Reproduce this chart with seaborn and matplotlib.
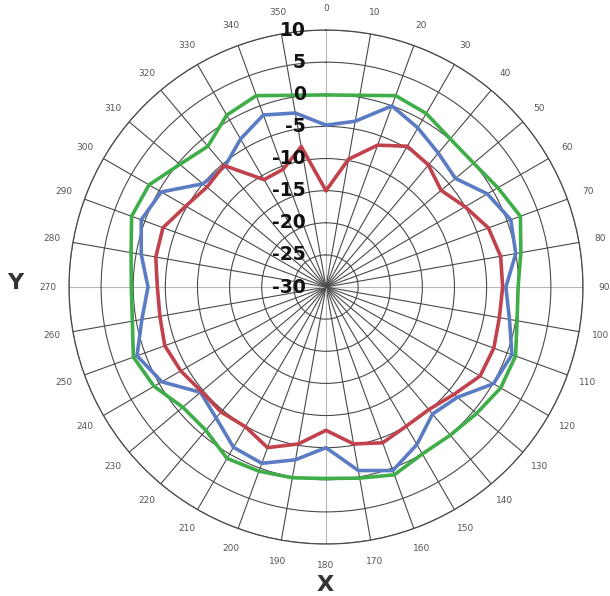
import numpy as np
import pandas as pd
import matplotlib
matplotlib.use("Agg")
import matplotlib.pyplot as plt
import matplotlib.transforms as mtrans
import seaborn as sns

# ---- data (dB values every 10 degrees, 0..350) ----
angles_deg = list(range(0, 360, 10))
green = [-0.1, 0.3, 1.7, 1.2, 0.1, 0.0, 0.9, 2.2, 0.8, -0.1, 0.2, 1.4,
         1.4, 0.6, 0.1, 0.0, 1.1, 0.2, -0.2, 0.15, 0.5, 0.8, -0.9, -0.9,
         0.9, 1.9, 0.6, 0.3, 0.8, 2.2, 1.8, -0.3, -1.4, 0.9, 1.7, 0.3]
blue = [-4.8, -3.8, 0.0, -1.4, -2.8, -3.7, -1.0, 0.6, 0.0, -2.0, -1.0, 0.8,
        0.1, -3.3, -4.2, -1.7, 0.4, -1.0, -5.0, -2.7, -0.8, -1.2, -3.4, -4.5,
        -0.5, 1.3, -0.9, -2.3, -0.8, 0.6, -0.4, -5.0, -5.5, -3.4, -1.5, -2.5]
red = [-15.0, -9.8, -6.5, -4.7, -5.2, -6.6, -5.0, -3.1, -2.4, -2.5, -2.6, -2.2,
       -2.3, -4.0, -5.1, -5.0, -4.2, -5.2, -7.7, -5.2, -3.4, -4.9, -4.6, -4.7,
       -3.9, -3.3, -3.75, -3.75, -3.1, -3.0, -4.8, -5.8, -5.3, -10.7, -10.5, -7.8]
series_names = ["green", "blue", "red"]
series_colors = ["#3fae49", "#5b7cc2", "#c1414d"]
r_ticks = [-30, -25, -20, -15, -10, -5, 0, 5, 10]
theta_labels = [str(a) for a in angles_deg]

sns.set_theme(style="white")
plt.rcParams['font.family'] = ['DejaVu Sans']

rows = []
for name, vals in zip(series_names, [green, blue, red]):
    for a, v in zip(angles_deg + [360], vals + [vals[0]]):
        rows.append({"series": name, "theta": np.deg2rad(a), "r": v, "order": a})
df = pd.DataFrame(rows)

fig = plt.figure(figsize=(6.10, 5.96), dpi=100)
ax = fig.add_axes([0.1131, 0.0872, 0.8426, 0.8624], projection="polar")
ax.set_theta_zero_location("N")
ax.set_theta_direction(-1)

for name, col in zip(series_names, series_colors):
    sub = df[df["series"] == name]
    sns.lineplot(data=sub, x="theta", y="r", ax=ax, color=col, lw=2.6,
                 sort=False, estimator=None, legend=False)

ax.set_ylim(-30, 10)
ax.set_thetagrids(angles_deg, theta_labels)
ax.set_rgrids(r_ticks[1:], labels=[])
ax.set_xlabel("")
ax.set_ylabel("")
ax.grid(True, color="#4a4a4a", lw=0.8)
for i, gl in enumerate(ax.xaxis.get_gridlines()):
    if i % 9 == 0:
        gl.set_color("#b5b5b5")
ax.spines["polar"].set_color("#4a4a4a")
ax.spines["polar"].set_linewidth(0.9)
ax.tick_params(axis="x", labelsize=6.5, colors="#555555", pad=2.5)

off = mtrans.offset_copy(ax.transData, fig=fig, x=-20, y=0, units="dots")
for rv in r_ticks:
    ax.text(0, rv, str(rv), transform=off, ha="right", va="center",
            fontsize=13.5, fontweight="bold", color="#111111")

fig.text(15 / 610, 1 - 283 / 596, "Y", fontsize=16, fontweight="bold",
         color="#333333", ha="center", va="center")
fig.text(325 / 610, 1 - 585 / 596, "X", fontsize=16, fontweight="bold",
         color="#333333", ha="center", va="center")

fig.savefig("out.png", dpi=100, facecolor="white")
